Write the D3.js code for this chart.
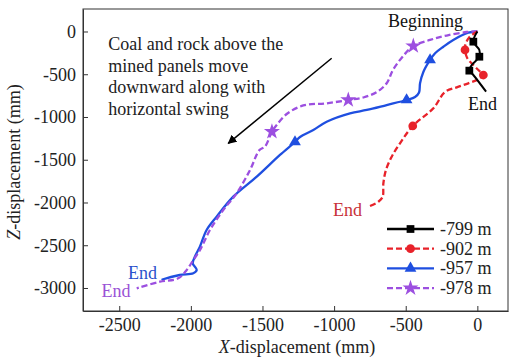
<!DOCTYPE html>
<html>
<head>
<meta charset="utf-8">
<script src="https://cdn.jsdelivr.net/npm/d3@7"></script>
<style>
  html, body { margin: 0; padding: 0; background: #fff; }
  svg { display: block; }
</style>
</head>
<body>
<div id="chart"></div>
<script>
// Trajectories of surface points (X / Z displacement, mm) for four elevations
const seriesNames = ["-799 m", "-902 m", "-957 m", "-978 m"];

const x799 = [0, -28, 14, 14, -39, -56, -28, 61];
const z799 = [0, -119, -216, -295, -392, -458, -509, -704];
const m799 = [1, 3, 5];

const x902 = [0, -56, -84, -86, -70, -28, 19, 42, 7, -63, -144, -226, -307, -451, -540, -598, -638, -656, -661, -691, -761];
const z902 = [0, -68, -158, -216, -313, -392, -470, -509, -559, -606, -653, -708, -898, -1105, -1308, -1465, -1620, -1775, -1932, -1991, -2049];
const m902 = [3, 7, 13];

const x957 = [0, -63, -168, -237, -295, -330, -377, -400, -407, -435, -494, -633, -772, -889, -1052, -1145, -1238, -1273, -1378, -1540, -1704, -1820, -1890, -1937, -1972, -1987, -1959, -1983, -2078, -2193, -2204];
const z957 = [0, -14, -99, -178, -255, -333, -474, -606, -713, -766, -801, -860, -918, -957, -1055, -1152, -1234, -1292, -1444, -1698, -1932, -2166, -2322, -2517, -2634, -2711, -2789, -2828, -2848, -2898, -2906];
const m957 = [5, 10, 17];

const x978 = [0, -74, -214, -330, -447, -512, -589, -633, -702, -796, -901, -1052, -1215, -1331, -1401, -1434, -1483, -1521, -1587, -1680, -1774, -1867, -1936, -1983, -2029, -2088, -2216, -2378];
const z978 = [0, -6, -47, -99, -170, -275, -450, -606, -708, -772, -801, -840, -865, -965, -1094, -1172, -1347, -1386, -1620, -1892, -2088, -2322, -2556, -2673, -2789, -2887, -2926, -3004];
const m978 = [4, 10, 15];

const xTicks = [-2500, -2000, -1500, -1000, -500, 0];
const zTicks = [0, -500, -1000, -1500, -2000, -2500, -3000];

const colors = ["#000000", "#e8222a", "#1f4fe0", "#9c4fe0"];
const labelColors = ["#111111", "#c8323a", "#2a52cc", "#9a52d6"];
const dashes = [null, "6,3", null, "6,3"];
const symbols = [d3.symbolSquare, d3.symbolCircle, d3.symbolTriangle, d3.symbolStar];
const symSizes = [60, 60, 60, 80];

const series = [
  { x: x799, z: z799, m: m799 },
  { x: x902, z: z902, m: m902 },
  { x: x957, z: z957, m: m957 },
  { x: x978, z: z978, m: m978 }
];

// End-of-trajectory labels, placed in data units
const endLabels = [
  { s: 0, x: -65, z: -918 },
  { s: 1, x: -1008, z: -2158 },
  { s: 2, x: -2439, z: -2895 },
  { s: 3, x: -2623, z: -3111 }
];

const FONT = "'Liberation Serif', 'Times New Roman', Times, serif";
const W = 510, H = 358;
const mLeft = 83, mRight = 508, mTop = 9, mBottom = 311;

const x = d3.scaleLinear().domain([-2753, 214]).range([mLeft, mRight]);
const y = d3.scaleLinear().domain([-3269, 263]).range([mBottom, mTop]);

const svg = d3.select("#chart").append("svg")
  .attr("width", W).attr("height", H)
  .style("font-family", FONT);

// Frame
svg.append("rect")
  .attr("x", mLeft).attr("y", mTop)
  .attr("width", mRight - mLeft).attr("height", mBottom - mTop)
  .attr("fill", "none").attr("stroke", "#333").attr("stroke-width", 1);

// Axes with inward ticks
const fmt = d => String(d);
const xAxis = svg.append("g").attr("transform", `translate(0,${mBottom})`)
  .call(d3.axisBottom(x).tickValues(xTicks).tickFormat(fmt).tickSizeInner(-5).tickSizeOuter(0).tickPadding(7));
const yAxis = svg.append("g").attr("transform", `translate(${mLeft},0)`)
  .call(d3.axisLeft(y).tickValues(zTicks).tickFormat(fmt).tickSizeInner(-5).tickSizeOuter(0).tickPadding(7));
[xAxis, yAxis].forEach(g => {
  g.select(".domain").attr("stroke", "#333");
  g.selectAll(".tick line").attr("stroke", "#333");
  g.selectAll(".tick text")
    .style("font-family", FONT)
    .style("font-size", "18px").attr("fill", "#222");
});

function txt(sel) {
  return sel.style("font-family", FONT).style("font-size", "18px");
}

// Axis titles
const xt = txt(svg.append("text"))
  .attr("x", 297).attr("y", 353)
  .attr("text-anchor", "middle").attr("fill", "#222");
xt.append("tspan").attr("font-style", "italic").text("X");
xt.append("tspan").text("-displacement (mm)");

const yt = txt(svg.append("text"))
  .attr("transform", `translate(20,${(mTop + mBottom) / 2 + 2}) rotate(-90)`)
  .attr("text-anchor", "middle").attr("fill", "#222");
yt.append("tspan").attr("font-style", "italic").text("Z");
yt.append("tspan").text("-displacement (mm)");

// Trajectories
const line = d3.line().x(d => x(d[0])).y(d => y(d[1])).curve(d3.curveCatmullRom.alpha(0.5));
const drawOrder = [2, 3, 1, 0];
drawOrder.forEach(i => {
  const s = series[i];
  const pts = s.x.map((v, k) => [v, s.z[k]]);
  const g = svg.append("g");
  g.append("path")
    .attr("d", line(pts))
    .attr("fill", "none")
    .attr("stroke", colors[i])
    .attr("stroke-width", i === 0 ? 2 : 2.3)
    .attr("stroke-dasharray", dashes[i]);
  g.selectAll("path.mk").data(s.m.map(k => pts[k])).enter().append("path")
    .attr("class", "mk")
    .attr("d", d3.symbol().type(symbols[i]).size(symSizes[i]))
    .attr("transform", d => `translate(${x(d[0])},${y(d[1])})`)
    .attr("fill", colors[i]);
});

// Labels
txt(svg.append("text")).attr("x", x(-624)).attr("y", y(53))
  .attr("fill", "#111").text("Beginning");
endLabels.forEach(l => {
  txt(svg.append("text")).attr("x", x(l.x)).attr("y", y(l.z))
    .attr("fill", labelColors[l.s]).text("End");
});

// Annotation text and arrow
const noteLines = ["Coal and rock above the", "mined panels move", "downward along with", "horizontal swing"];
const noteX = -2577, noteZ = [-220, -477, -722, -980];
noteLines.forEach((t, i) => {
  txt(svg.append("text")).attr("x", x(noteX)).attr("y", y(noteZ[i]))
    .attr("fill", "#222").text(t);
});

svg.append("defs").append("marker")
  .attr("id", "ah").attr("viewBox", "0 0 10 10")
  .attr("refX", 9).attr("refY", 5)
  .attr("markerWidth", 9).attr("markerHeight", 9)
  .attr("markerUnits", "userSpaceOnUse")
  .attr("orient", "auto")
  .append("path").attr("d", "M0,0 L10,5 L0,10 z").attr("fill", "#000");

const arrowFrom = [-1017, -313], arrowTo = [-1739, -1308];
svg.append("line")
  .attr("x1", x(arrowFrom[0])).attr("y1", y(arrowFrom[1]))
  .attr("x2", x(arrowTo[0])).attr("y2", y(arrowTo[1]))
  .attr("stroke", "#000").attr("stroke-width", 1.5)
  .attr("marker-end", "url(#ah)");

// Legend
const legX = 387, legY = 229, legStep = 19.7, legLen = 47;
seriesNames.forEach((name, i) => {
  const g = svg.append("g").attr("transform", `translate(${legX},${legY + i * legStep})`);
  g.append("line").attr("x1", 0).attr("x2", legLen).attr("y1", 0).attr("y2", 0)
    .attr("stroke", colors[i]).attr("stroke-width", 2.3)
    .attr("stroke-dasharray", dashes[i]);
  g.append("path").attr("d", d3.symbol().type(symbols[i]).size(symSizes[i]))
    .attr("transform", `translate(${legLen / 2},0)`).attr("fill", colors[i]);
  txt(g.append("text")).attr("x", legLen + 6).attr("y", 6)
    .attr("fill", "#222").text(name);
});
</script>
</body>
</html>
